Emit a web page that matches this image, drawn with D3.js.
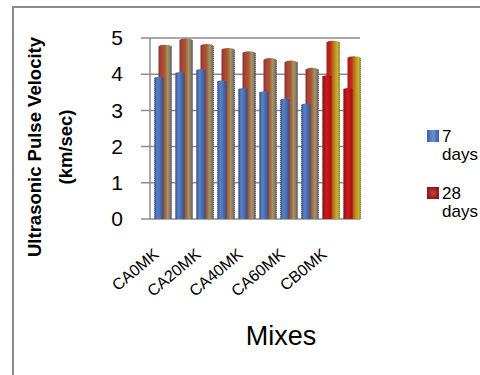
<!DOCTYPE html>
<html>
<head>
<meta charset="utf-8">
<script src="https://cdn.jsdelivr.net/npm/d3@7"></script>
<style>
  html, body { margin: 0; padding: 0; background: #fff; }
  svg { display: block; font-family: "Liberation Sans", Arial, sans-serif; }
</style>
</head>
<body>
<svg id="chart" width="480" height="375"></svg>
<script>
// Mix designations (every other one is labelled on the axis)
const categories = ["CA0MK", "CA10MK", "CA20MK", "CA30MK", "CA40MK", "CA50MK", "CA60MK", "CA70MK", "CB0MK", "CB10MK"];
// Ultrasonic pulse velocity, km/sec
const days7  = [3.89, 4.02, 4.10, 3.79, 3.58, 3.49, 3.29, 3.15, 3.93, 3.58];
const days28 = [4.76, 4.93, 4.78, 4.67, 4.58, 4.39, 4.32, 4.12, 4.87, 4.44];
const seriesNames = ["7 days", "28 days"];
const yTicks = [0, 1, 2, 3, 4, 5];

const svg = d3.select("#chart");
const defs = svg.append("defs");

function hGrad(id, stops) {
  const g = defs.append("linearGradient").attr("id", id)
    .attr("x1", "0%").attr("x2", "100%").attr("y1", "0%").attr("y2", "0%");
  stops.forEach(([o, c]) => g.append("stop").attr("offset", o).attr("stop-color", c));
}
hGrad("gBlue", [[0, "#2f4f8f"], [0.3, "#5b82c6"], [0.65, "#4a6db0"], [1, "#334f86"]]);
hGrad("gRust", [[0, "#7a3440"], [0.2, "#b3412c"], [0.45, "#a5553a"], [0.7, "#a49656"], [0.88, "#87786e"], [1, "#5a4a7c"]]);
hGrad("gRed", [[0, "#8c1010"], [0.45, "#d21a1a"], [1, "#9c1212"]]);
hGrad("gGold", [[0, "#a81818"], [0.3, "#c22a18"], [0.6, "#b88a22"], [0.85, "#c8b428"], [1, "#9a8a1c"]]);
hGrad("gLegBlue", [[0, "#3a5fa8"], [0.5, "#6a90d4"], [1, "#3a5fa8"]]);
const rg = defs.append("radialGradient").attr("id", "gLegRed");
rg.append("stop").attr("offset", 0).attr("stop-color", "#d04040");
rg.append("stop").attr("offset", 1).attr("stop-color", "#8c1a1a");

// Outer chart frame (left and top edges)
svg.append("path").attr("d", "M13,375 V7 H480")
  .attr("fill", "none").attr("stroke", "#8a8a8a").attr("stroke-width", 2);

const y = d3.scaleLinear().domain([0, 5]).range([219, 38]);
const x = d3.scaleBand().domain(categories).range([152.5, 362.5]).padding(0);

// Gridlines
svg.append("g").selectAll("line").data(yTicks).join("line")
  .attr("x1", 141).attr("x2", 360)
  .attr("y1", d => y(d)).attr("y2", d => y(d))
  .attr("stroke", "#8c8c8c").attr("stroke-width", 1.5);
svg.append("line").attr("x1", 150).attr("x2", 150).attr("y1", y(5)).attr("y2", y(0))
  .attr("stroke", "#8c8c8c").attr("stroke-width", 1.5);

// Y tick labels
const yAxis = d3.axisLeft(y).tickValues(yTicks).tickSize(0).tickPadding(0).tickFormat(d3.format("d"));
const ya = svg.append("g").attr("transform", "translate(123,0)").call(yAxis);
ya.select(".domain").remove();
ya.selectAll("text").attr("font-size", 21).attr("fill", "#000")
  .attr("font-family", "'Liberation Sans', Arial, sans-serif");

const isCB = c => c.startsWith("CB");

// Bars: 28-day cylinder behind, 7-day cylinder in front
const bars = svg.append("g");
categories.forEach((c, i) => {
  const x0 = x(c);
  const backX = x0 + 6, backW = 13;
  const frontX = x0 + 2, frontW = 9;
  const back = isCB(c) ? "url(#gGold)" : "url(#gRust)";
  const front = isCB(c) ? "url(#gRed)" : "url(#gBlue)";
  bars.append("rect").attr("x", backX).attr("y", y(days28[i]))
    .attr("width", backW).attr("height", y(0) - y(days28[i]))
    .attr("fill", back);
  bars.append("ellipse").attr("cx", backX + backW / 2).attr("cy", y(days28[i]))
    .attr("rx", backW / 2).attr("ry", 2).attr("fill", back);
  bars.append("line").attr("x1", backX + backW).attr("x2", backX + backW)
    .attr("y1", y(days28[i])).attr("y2", y(0))
    .attr("stroke", "#666").attr("stroke-width", 1).attr("stroke-dasharray", "1,1");
  bars.append("rect").attr("x", frontX).attr("y", y(days7[i]))
    .attr("width", frontW).attr("height", y(0) - y(days7[i]))
    .attr("fill", front);
  bars.append("ellipse").attr("cx", frontX + frontW / 2).attr("cy", y(days7[i]))
    .attr("rx", frontW / 2).attr("ry", 1.5).attr("fill", front);
  bars.append("line").attr("x1", frontX).attr("x2", frontX)
    .attr("y1", y(days7[i])).attr("y2", y(0))
    .attr("stroke", "#666").attr("stroke-width", 1).attr("stroke-dasharray", "1,1");
});

// X category labels (every other category)
svg.append("g").selectAll("text")
  .data(categories.filter((d, i) => i % 2 === 0)).join("text")
  .attr("transform", d => `translate(${x(d) + x.bandwidth() / 2 - 3},${256}) rotate(-40)`)
  .attr("text-anchor", "end")
  .attr("font-size", 16).attr("fill", "#000")
  .text(d => d);

// Axis titles
const yt = svg.append("text")
  .attr("transform", "translate(41,147) rotate(-90)")
  .attr("text-anchor", "middle").attr("font-size", 18.5).attr("font-weight", "bold");
yt.append("tspan").attr("x", 0).attr("dy", 0).text("Ultrasonic Pulse Velocity");
yt.append("tspan").attr("x", 0).attr("dy", 31).text("(km/sec)");

svg.append("text").attr("x", 281).attr("y", 345).attr("text-anchor", "middle")
  .attr("font-size", 27).text("Mixes");

// Legend
const legend = svg.append("g").attr("transform", "translate(427,0)");
const legY = [136, 193];
seriesNames.forEach((name, i) => {
  const parts = name.split(" ");
  legend.append("rect").attr("x", 0).attr("y", legY[i] - 6).attr("width", 12).attr("height", 12)
    .attr("fill", i === 0 ? "url(#gLegBlue)" : "url(#gLegRed)");
  legend.append("text").attr("x", 15).attr("y", legY[i] + 6).attr("font-size", 17).text(parts[0]);
  legend.append("text").attr("x", 15).attr("y", legY[i] + 24).attr("font-size", 17).text(parts[1]);
});
</script>
</body>
</html>
